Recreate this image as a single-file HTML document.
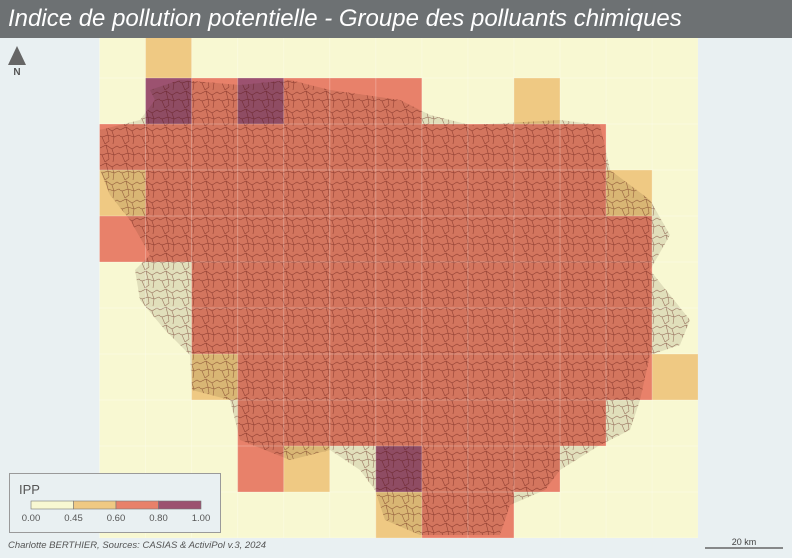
<!DOCTYPE html>
<html><head><meta charset="utf-8">
<style>
html,body{margin:0;padding:0;}
body{width:792px;height:558px;overflow:hidden;background:#e9f0f2;font-family:"Liberation Sans",sans-serif;position:relative;}
#title{position:absolute;left:0;top:0;width:792px;height:38px;background:#6d7173;color:#fff;font-style:italic;font-size:24px;line-height:38px;padding-left:8px;box-sizing:border-box;white-space:nowrap;}
#legend{position:absolute;left:9px;top:473px;width:212px;height:60px;background:#e9f0f2;border:1px solid #9a9a9a;box-sizing:border-box;}
#credit{position:absolute;left:8px;top:540px;font-size:9.5px;font-style:italic;color:#555;}
</style></head><body>
<svg width="792" height="558" style="position:absolute;left:0;top:0">
  <defs>
    <clipPath id="mapclip"><rect x="99" y="38" width="599" height="500"/></clipPath>
    <pattern id="communes" width="20" height="18" patternUnits="userSpaceOnUse">
      <path d="M0 4 L6 1 L12 5 L17 2 L20 4 M6 1 L8 9 L2 11 L0 10 M8 9 L14 11 L12 5 M14 11 L19 9 L20 10 M2 11 L5 18 M14 11 L13 18 M8 9 L9 15 L5 18" fill="none" stroke="rgba(80,10,5,0.5)" stroke-width="0.6"/>
    </pattern>
    <clipPath id="regclip"><polygon id="regpoly" points="150,90 180,80 240,85 290,80 330,90 400,100 430,115 470,125 560,120 600,125 610,170 650,200 670,235 650,270 690,320 680,345 650,355 640,400 630,430 600,445 560,470 545,490 510,505 500,535 420,535 385,520 375,490 360,470 330,450 290,460 240,440 230,400 192,390 190,355 165,330 140,300 135,270 150,255 130,220 110,195 100,170 100,130 140,120 155,100"/></clipPath>
  </defs>
  <g id="cells" clip-path="url(#mapclip)"></g>
  <g>
    <rect x="99" y="38" width="599" height="500" fill="rgba(50,30,0,0.11)" clip-path="url(#regclip)"/>
    <rect x="99" y="38" width="599" height="500" fill="url(#communes)" clip-path="url(#regclip)"/>
  </g>
  <g id="gridlines" clip-path="url(#mapclip)"></g>
  <g>
    <polygon points="17,46 8,65 26,65" fill="#666"/>
    <text x="17" y="75" font-size="10" font-weight="bold" fill="#555" text-anchor="middle">N</text>
  </g>
  <g>
    <text x="744" y="545" font-size="9" fill="#444" text-anchor="middle">20 km</text>
    <line x1="705" y1="548" x2="783" y2="548" stroke="#666" stroke-width="1.5"/>
  </g>
</svg>
<div id="title">Indice de pollution potentielle - Groupe des polluants chimiques</div>
<div id="legend">
  <svg width="212" height="60">
    <text x="9" y="20" font-size="13" fill="#555">IPP</text>
    <g id="legbar"></g>
  </svg>
</div>
<div id="credit">Charlotte BERTHIER, Sources: CASIAS &amp; ActiviPol v.3, 2024</div>
<script>
// IPP grid values (rows top->bottom, 13 columns)
const row0 =  [0.3,0.5,0.3,0.3,0.3,0.3,0.3,0.3,0.3,0.3,0.3,0.3,0.3];
const row1 =  [0.3,0.9,0.7,0.9,0.7,0.7,0.7,0.3,0.3,0.5,0.3,0.3,0.3];
const row2 =  [0.7,0.7,0.7,0.7,0.7,0.7,0.7,0.7,0.7,0.7,0.7,0.3,0.3];
const row3 =  [0.5,0.7,0.7,0.7,0.7,0.7,0.7,0.7,0.7,0.7,0.7,0.5,0.3];
const row4 =  [0.7,0.7,0.7,0.7,0.7,0.7,0.7,0.7,0.7,0.7,0.7,0.7,0.3];
const row5 =  [0.3,0.3,0.7,0.7,0.7,0.7,0.7,0.7,0.7,0.7,0.7,0.7,0.3];
const row6 =  [0.3,0.3,0.7,0.7,0.7,0.7,0.7,0.7,0.7,0.7,0.7,0.7,0.3];
const row7 =  [0.3,0.3,0.5,0.7,0.7,0.7,0.7,0.7,0.7,0.7,0.7,0.7,0.5];
const row8 =  [0.3,0.3,0.3,0.7,0.7,0.7,0.7,0.7,0.7,0.7,0.7,0.3,0.3];
const row9 =  [0.3,0.3,0.3,0.7,0.5,0.3,0.9,0.7,0.7,0.7,0.3,0.3,0.3];
const row10 = [0.3,0.3,0.3,0.3,0.3,0.3,0.5,0.7,0.7,0.3,0.3,0.3,0.3];
const breaks = [0.00,0.45,0.60,0.80,1.00];
const breakLabels = ["0.00","0.45","0.60","0.80","1.00"];
const classColors = ["#f8f8d2","#efc983","#e8816a","#9c5270"];

const grid=[row0,row1,row2,row3,row4,row5,row6,row7,row8,row9,row10];
const NS='http://www.w3.org/2000/svg';
const x0=99.5,y0=32,cw=46.05,ch=46;
function colX(c){return x0+c*cw;}
function rowY(r){return y0+r*ch;}
function colorFor(v){for(let i=0;i<4;i++){if(v<=breaks[i+1])return classColors[i];}return classColors[3];}
const cells=document.getElementById('cells');
grid.forEach((row,r)=>row.forEach((v,c)=>{
  const e=document.createElementNS(NS,'rect');
  e.setAttribute('x',colX(c));e.setAttribute('y',rowY(r));
  e.setAttribute('width',cw+0.5);e.setAttribute('height',ch+0.5);
  e.setAttribute('fill',colorFor(v));
  
  
  cells.appendChild(e);
}));
const gl=document.getElementById('gridlines');
for(let c=0;c<=13;c++){const l=document.createElementNS(NS,'line');l.setAttribute('x1',colX(c));l.setAttribute('x2',colX(c));l.setAttribute('y1',38);l.setAttribute('y2',538);l.setAttribute('stroke','rgba(255,255,255,0.25)');gl.appendChild(l);}
for(let r=0;r<=11;r++){const l=document.createElementNS(NS,'line');l.setAttribute('y1',rowY(r));l.setAttribute('y2',rowY(r));l.setAttribute('x1',99);l.setAttribute('x2',698);l.setAttribute('stroke','rgba(255,255,255,0.25)');gl.appendChild(l);}
// legend
const lb=document.getElementById('legbar');
function legX(v){return 21+v*170;}
for(let i=0;i<4;i++){
  const e=document.createElementNS(NS,'rect');
  e.setAttribute('x',legX(i/4));e.setAttribute('y',27);e.setAttribute('width',170/4);e.setAttribute('height',8);
  e.setAttribute('fill',classColors[i]);e.setAttribute('stroke','#777');e.setAttribute('stroke-width','0.6');
  
  
  lb.appendChild(e);
}
breakLabels.forEach((t,i)=>{
  const e=document.createElementNS(NS,'text');
  e.setAttribute('x',legX(i/4));e.setAttribute('y',47);e.setAttribute('font-size','9.5');e.setAttribute('fill','#555');e.setAttribute('text-anchor','middle');
  e.textContent=t;
  
  
  lb.appendChild(e);
});
</script>
</body></html>
